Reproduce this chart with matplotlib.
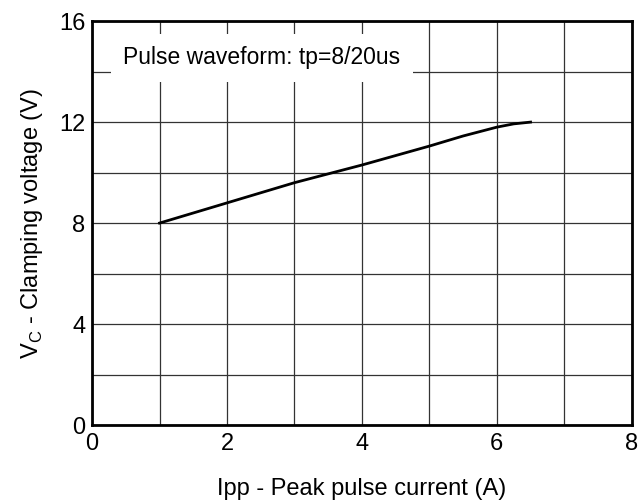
import matplotlib
matplotlib.use("Agg")
import matplotlib.pyplot as plt

# data
ipp = [1.0, 2.0, 3.0, 4.0, 5.0, 5.5, 6.0, 6.25, 6.5]
vc = [8.0, 8.8, 9.6, 10.3, 11.05, 11.45, 11.8, 11.93, 12.0]

xticks = [0, 2, 4, 6, 8]
yticks = [0, 4, 8, 12, 16]

plt.rcParams['font.family'] = ['Liberation Sans', 'DejaVu Sans']
plt.rcParams['mathtext.fontset'] = 'custom'
plt.rcParams['mathtext.rm'] = 'Liberation Sans'

fig = plt.figure(figsize=(6.44, 5.03), dpi=100)
ax = fig.add_axes([0.143, 0.155, 0.838, 0.803])

ax.plot(ipp, vc, color='black', lw=2, zorder=3)

ax.set_xlim(0, 8)
ax.set_ylim(0, 16)
ax.set_xticks(xticks)
ax.set_yticks(yticks)
ax.set_xticks(range(0, 9), minor=True)
ax.set_yticks(range(0, 17, 2), minor=True)
ax.grid(which='both', color='#333333', lw=0.9)
ax.tick_params(which='both', length=0, labelsize=17)
ax.tick_params(axis='y', pad=5)
ax.tick_params(axis='x', pad=6)
for s in ax.spines.values():
    s.set_linewidth(2)
    s.set_zorder(5)

ax.set_xlabel('Ipp - Peak pulse current (A)', fontsize=17, labelpad=16)
ax.set_ylabel(r'V$_\mathregular{C}$ - Clamping voltage (V)', fontsize=17, labelpad=10)

ax.text(0.46, 14.55, 'Pulse waveform: tp=8/20us', fontsize=16.5, va='center', ha='left',
        zorder=4, bbox=dict(facecolor='white', edgecolor='none', boxstyle='square,pad=0.55'))

fig.savefig('out.png', dpi=100)
